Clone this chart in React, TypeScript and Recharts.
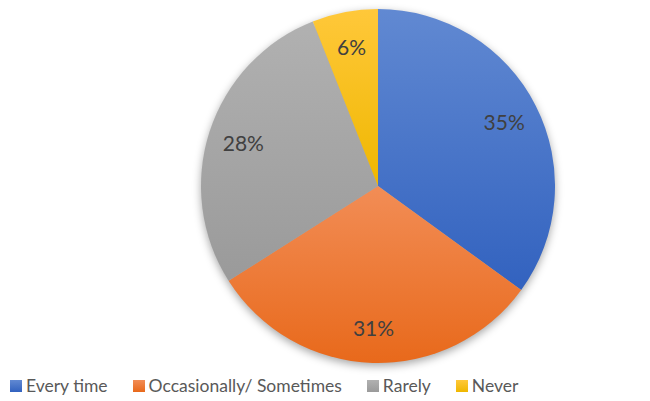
import React from "react";
import { PieChart, Pie, Cell } from "recharts";

const categories = ["Every time", "Occasionally/ Sometimes", "Rarely", "Never"];
const shares = [35, 31, 28, 6];

// top / bottom colours of each slice's gradient
const topColors = ["#6189d2", "#f28d56", "#b1b1b1", "#ffc83a"];
const bottomColors = ["#3262bf", "#e8691b", "#9a9a9a", "#efb700"];

const data = categories.map((name, i) => ({ name, value: shares[i] }));

const RADIAN = Math.PI / 180;
const FONT = "Lato, 'Open Sans', sans-serif";

const renderLabel = (props: any) => {
  const { cx, cy, midAngle, outerRadius, value } = props;
  const r = outerRadius * 0.8;
  const x = cx + r * Math.cos(-midAngle * RADIAN);
  const y = cy + r * Math.sin(-midAngle * RADIAN);
  return (
    <text x={x} y={y} fill="#404040" fontSize={21} fontFamily={FONT} textAnchor="middle" dominantBaseline="central">
      {value}%
    </text>
  );
};

function LegendRow() {
  return (
    <div
      style={{
        position: "absolute",
        left: 10,
        top: 375,
        display: "flex",
        gap: 25,
        fontFamily: FONT,
        fontSize: 17.5,
        color: "#595959",
        whiteSpace: "nowrap",
      }}
    >
      {categories.map((c, i) => (
        <div key={c} style={{ display: "flex", alignItems: "center" }}>
          <span
            style={{
              display: "inline-block",
              width: 12,
              height: 12,
              marginRight: 4,
              background: `linear-gradient(${topColors[i]}, ${bottomColors[i]})`,
            }}
          />
          <span>{c}</span>
        </div>
      ))}
    </div>
  );
}

export default function App() {
  return (
    <div style={{ position: "absolute", left: 0, top: 0, width: 650, height: 401, background: "#fff" }}>
      <style>{`.recharts-pie { filter: drop-shadow(0px 3px 4px rgba(0,0,0,0.35)); }`}</style>
      <PieChart width={650} height={401} margin={{ top: 0, right: 0, bottom: 0, left: 0 }}>
        <defs>
          {categories.map((c, i) => (
            <linearGradient key={c} id={`grad${i}`} x1="0" y1="0" x2="0" y2="1">
              <stop offset="0%" stopColor={topColors[i]} />
              <stop offset="100%" stopColor={bottomColors[i]} />
            </linearGradient>
          ))}
        </defs>
        <Pie
          data={data}
          dataKey="value"
          nameKey="name"
          cx={378}
          cy={186}
          outerRadius={177}
          startAngle={90}
          endAngle={-270}
          stroke="none"
          label={renderLabel}
          labelLine={false}
          isAnimationActive={false}
        >
          {data.map((d, i) => (
            <Cell key={d.name} fill={`url(#grad${i})`} />
          ))}
        </Pie>
      </PieChart>
      <LegendRow />
    </div>
  );
}
